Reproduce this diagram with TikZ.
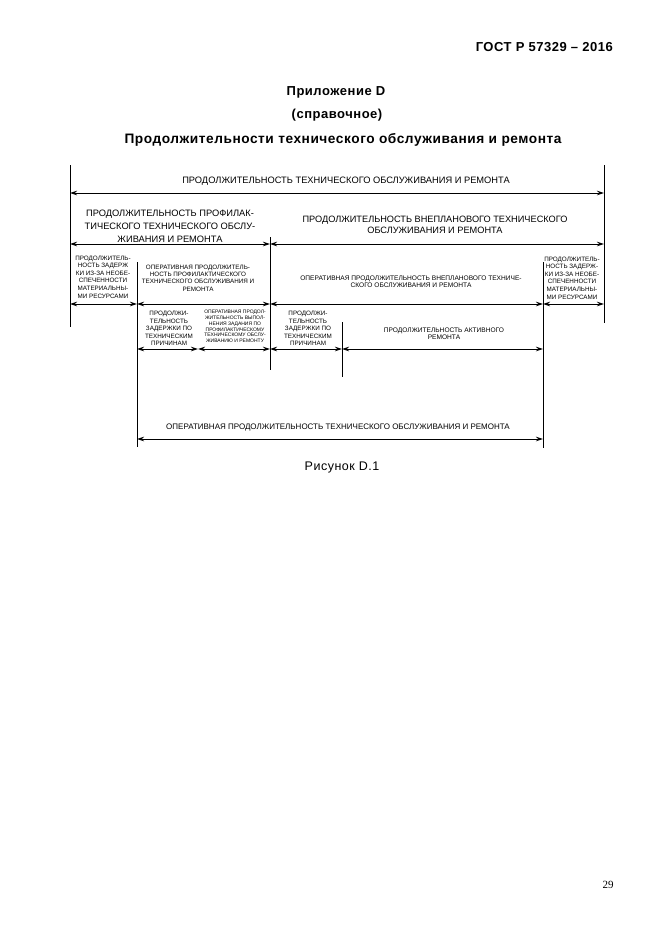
\documentclass[tikz,border=0pt]{standalone}
\usepackage{fontspec}
\setmainfont{Liberation Sans}
\newfontfamily\pagenumfont{Liberation Serif}
\newfontfamily\spacedfont[LetterSpace=4]{Liberation Sans}
\usetikzlibrary{arrows.meta}
\begin{document}
\begin{tikzpicture}[x=1pt,y=-1pt,
  vline/.style={line width=0.8pt},
  dim/.style={line width=0.9pt,{Stealth[length=7pt,width=4.5pt]}-{Stealth[length=7pt,width=4.5pt]}},
  lbl/.style={inner sep=0pt,align=center},
  fbig/.style={lbl,font=\fontsize{9.3}{13}\selectfont},
  fmid/.style={lbl,font=\fontsize{9.2}{11.5}\selectfont},
  fbot/.style={lbl,font=\fontsize{8.0}{9}\selectfont},
  fsmall/.style={lbl,font=\fontsize{6.3}{7.6}\selectfont},
  fsmallc/.style={lbl,font=\fontsize{6.3}{7.3}\selectfont},
  fsmallb/.style={lbl,font=\fontsize{6.6}{7.3}\selectfont},
  ftiny/.style={lbl,font=\fontsize{5}{5.8}\selectfont},
  hdr/.style={inner sep=0pt,font=\spacedfont\bfseries\fontsize{13}{14}\selectfont}
]
\useasboundingbox[fill=white] (0,0) rectangle (662,935);

% header texts
\node[hdr,anchor=east] (gost) at (613,47) {ГОСТ Р 57329 – 2016};
\node[hdr] (app) at (336,92) {Приложение D};
\node[hdr] (ref) at (337,115) {(справочное)};
\node[hdr,font=\spacedfont\bfseries\fontsize{13.7}{14}\selectfont] (title) at (343,140) {Продолжительности технического обслуживания и ремонта};
\node[inner sep=0pt,font=\spacedfont\fontsize{12.5}{13}\selectfont] (fig) at (342,467) {Рисунок D.1};
\node[inner sep=0pt,font=\pagenumfont\fontsize{11}{13}\selectfont] (pnum) at (608,885) {29};

% vertical lines
\coordinate (v1t) at (70,165);  \coordinate (v1b) at (70,327);
\coordinate (v2t) at (604,165); \coordinate (v2b) at (604,323);
\coordinate (v3t) at (270,237); \coordinate (v3b) at (270,370);
\coordinate (v4t) at (137,262); \coordinate (v4b) at (137,447);
\coordinate (v5t) at (342,322); \coordinate (v5b) at (342,377);
\coordinate (v6t) at (543,262); \coordinate (v6b) at (543,448);
\foreach \v in {v1,v2,v3,v4,v5,v6} \draw[vline] (\v t) -- (\v b);

% arrow end points
\coordinate (a0l) at (70,193);  \coordinate (a0r) at (604,193);
\coordinate (a1l) at (70,244);  \coordinate (a1m) at (270,244); \coordinate (a1r) at (604,244);
\coordinate (a2a) at (70,304);  \coordinate (a2b) at (137,304); \coordinate (a2c) at (270,304);
\coordinate (a2d) at (543,304); \coordinate (a2e) at (604,304);
\coordinate (a3a) at (137,349); \coordinate (a3b) at (198,349); \coordinate (a3c) at (270,349);
\coordinate (a3d) at (342,349); \coordinate (a3e) at (543,349);
\coordinate (a4l) at (137,439); \coordinate (a4r) at (543,439);

\draw[dim] (a0l) -- (a0r);
\draw[dim] (a1l) -- (a1m);
\draw[dim] (a1m) -- (a1r);
\draw[dim] (a2a) -- (a2b);
\draw[dim] (a2b) -- (a2c);
\draw[dim] (a2c) -- (a2d);
\draw[dim] (a2d) -- (a2e);
\draw[dim] (a3a) -- (a3b);
\draw[dim] (a3b) -- (a3c);
\draw[dim] (a3c) -- (a3d);
\draw[dim] (a3d) -- (a3e);
\draw[dim] (a4l) -- (a4r);

% labels
\node[fbig] (t0) at (346,181) {ПРОДОЛЖИТЕЛЬНОСТЬ ТЕХНИЧЕСКОГО ОБСЛУЖИВАНИЯ И РЕМОНТА};
\node[fbig] (t1) at (170,226) {ПРОДОЛЖИТЕЛЬНОСТЬ ПРОФИЛАК-\\ТИЧЕСКОГО ТЕХНИЧЕСКОГО ОБСЛУ-\\ЖИВАНИЯ И РЕМОНТА};
\node[fmid] (t2) at (435,225) {ПРОДОЛЖИТЕЛЬНОСТЬ ВНЕПЛАНОВОГО ТЕХНИЧЕСКОГО\\ОБСЛУЖИВАНИЯ И РЕМОНТА};
\node[fsmall] (t3) at (103,277) {ПРОДОЛЖИТЕЛЬ-\\НОСТЬ ЗАДЕРЖ\\КИ ИЗ-ЗА НЕОБЕ-\\СПЕЧЕННОСТИ\\МАТЕРИАЛЬНЫ-\\МИ РЕСУРСАМИ};
\node[fsmallc] (t4) at (198,278) {ОПЕРАТИВНАЯ ПРОДОЛЖИТЕЛЬ-\\НОСТЬ ПРОФИЛАКТИЧЕСКОГО\\ТЕХНИЧЕСКОГО ОБСЛУЖИВАНИЯ И\\РЕМОНТА};
\node[fsmallb] (t5) at (411,282) {ОПЕРАТИВНАЯ ПРОДОЛЖИТЕЛЬНОСТЬ ВНЕПЛАНОВОГО ТЕХНИЧЕ-\\СКОГО ОБСЛУЖИВАНИЯ И РЕМОНТА};
\node[fsmall] (t6) at (572,278) {ПРОДОЛЖИТЕЛЬ-\\НОСТЬ ЗАДЕРЖ-\\КИ ИЗ-ЗА НЕОБЕ-\\СПЕЧЕННОСТИ\\МАТЕРИАЛЬНЫ-\\МИ РЕСУРСАМИ};
\node[fsmall] (t7) at (169,328.5) {ПРОДОЛЖИ-\\ТЕЛЬНОСТЬ\\ЗАДЕРЖКИ ПО\\ТЕХНИЧЕСКИМ\\ПРИЧИНАМ};
\node[ftiny] (t8) at (235,326.5) {ОПЕРАТИВНАЯ ПРОДОЛ-\\ЖИТЕЛЬНОСТЬ ВЫПОЛ-\\НЕНИЯ ЗАДАНИЯ ПО\\ПРОФИЛАКТИЧЕСКОМУ\\ТЕХНИЧЕСКОМУ ОБСЛУ-\\ЖИВАНИЮ И РЕМОНТУ};
\node[fsmall] (t9) at (308,328.5) {ПРОДОЛЖИ-\\ТЕЛЬНОСТЬ\\ЗАДЕРЖКИ ПО\\ТЕХНИЧЕСКИМ\\ПРИЧИНАМ};
\node[fsmallb] (t10) at (444,334) {ПРОДОЛЖИТЕЛЬНОСТЬ АКТИВНОГО\\РЕМОНТА};
\node[fbot] (t11) at (338,427) {ОПЕРАТИВНАЯ ПРОДОЛЖИТЕЛЬНОСТЬ ТЕХНИЧЕСКОГО ОБСЛУЖИВАНИЯ И РЕМОНТА};
\end{tikzpicture}
\end{document}
